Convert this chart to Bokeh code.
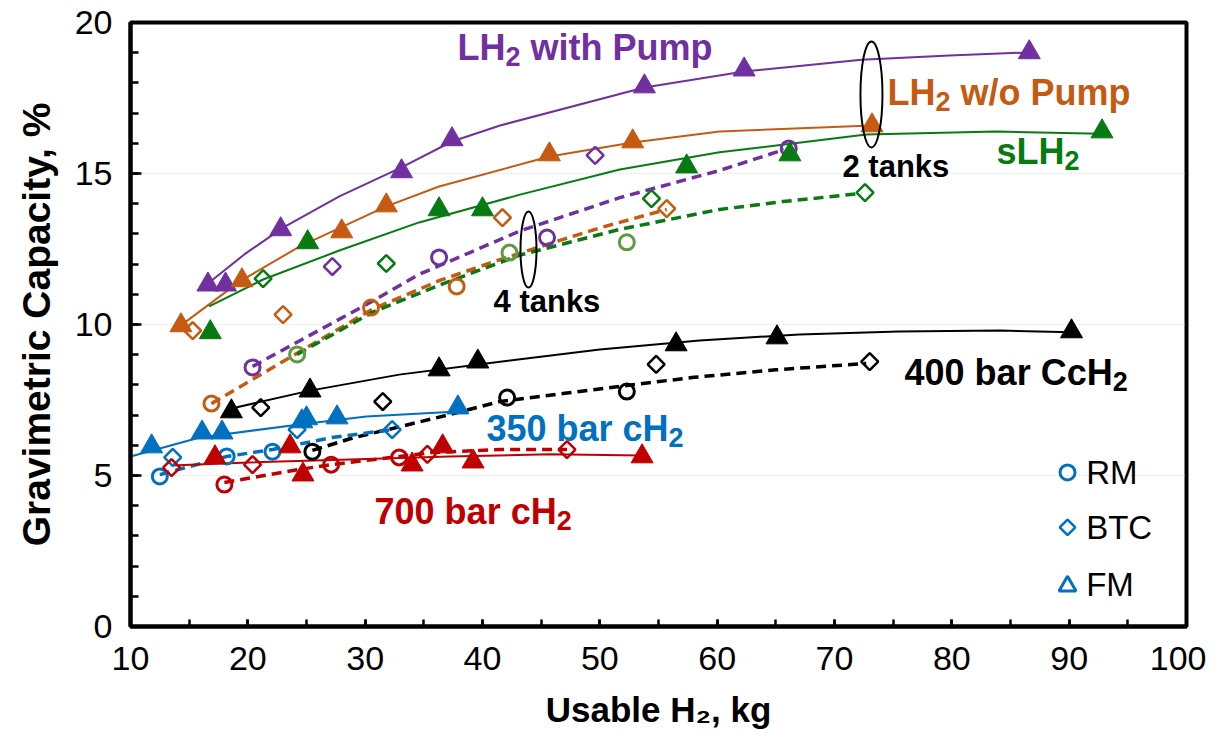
from bokeh.plotting import figure
from bokeh.models import Range1d, SingleIntervalTicker
from bokeh.core.properties import value
from bokeh.embed import file_html
from bokeh.resources import INLINE

# ---------------- data ----------------
# LH2 with Pump
pump_fm_x = [16.6, 18.1, 22.8, 33.1, 37.4, 53.8, 62.3, 86.6]
pump_fm_y = [11.32, 11.32, 13.15, 15.07, 16.13, 17.88, 18.44, 19.01]
pump_rm_x = [20.4, 36.3, 45.5, 66.1]
pump_rm_y = [8.58, 12.22, 12.88, 15.83]
pump_btc_x = [27.2, 49.6]
pump_btc_y = [11.92, 15.60]
pump_2t_x = [16.6, 19.7, 23.0, 27.8, 33.1, 37.4, 41.5, 53.8, 62.3, 72.3, 79.8, 86.6]
pump_2t_y = [11.36, 12.32, 13.21, 14.24, 15.20, 16.06, 16.59, 17.85, 18.38, 18.77, 18.91, 19.01]
pump_4t_x = [20.4, 30.1, 34.6, 43.2, 51.7, 60.2, 65.7]
pump_4t_y = [8.61, 10.66, 11.66, 13.10, 14.20, 15.10, 15.79]

# LH2 w/o Pump
nop_fm_x = [14.3, 19.5, 28.0, 31.8, 45.7, 52.8, 73.2]
nop_fm_y = [9.97, 11.46, 13.08, 13.94, 15.63, 16.06, 16.59]
nop_rm_x = [16.9, 30.5, 37.8]
nop_rm_y = [7.38, 10.56, 11.26]
nop_btc_x = [15.3, 23.0, 41.7, 55.7]
nop_btc_y = [9.80, 10.33, 13.54, 13.84]
nop_2t_x = [14.3, 19.3, 24.4, 31.8, 36.3, 45.7, 52.8, 60.2, 73.2]
nop_2t_y = [9.97, 11.42, 12.58, 13.91, 14.57, 15.56, 16.03, 16.39, 16.59]
nop_4t_x = [16.9, 24.2, 30.6, 36.3, 41.5, 45.5, 50.0, 55.7]
nop_4t_y = [7.38, 9.05, 10.50, 11.45, 12.15, 12.65, 13.20, 13.81]

# sLH2
slh_fm_x = [16.8, 25.1, 36.3, 40.0, 57.4, 66.2, 92.8]
slh_fm_y = [9.74, 12.72, 13.81, 13.81, 15.23, 15.63, 16.39]
slh_rm_x = [24.2, 42.3, 52.3]
slh_rm_y = [9.01, 12.38, 12.72]
slh_btc_x = [21.3, 31.8, 54.4, 72.6]
slh_btc_y = [11.52, 12.02, 14.17, 14.37]
slh_2t_x = [16.7, 21.3, 27.8, 34.6, 43.2, 51.7, 60.2, 72.7, 83.8, 92.6]
slh_2t_y = [10.60, 11.49, 12.45, 13.38, 14.30, 15.13, 15.70, 16.29, 16.39, 16.32]
slh_4t_x = [24.2, 30.6, 36.3, 43.2, 51.7, 60.2, 65.6, 72.3]
slh_4t_y = [9.01, 10.40, 11.30, 12.30, 13.15, 13.81, 14.07, 14.34]

# 400 bar CcH2
cc_fm_x = [18.6, 25.3, 36.3, 39.6, 56.5, 65.1, 90.2]
cc_fm_y = [7.12, 7.81, 8.51, 8.77, 9.34, 9.57, 9.77]
cc_rm_x = [25.5, 42.1, 52.3]
cc_rm_y = [5.79, 7.58, 7.78]
cc_btc_x = [21.1, 31.5, 54.8, 73.0]
cc_btc_y = [7.25, 7.45, 8.68, 8.77]
cc_2t_x = [18.6, 25.3, 32.9, 41.5, 50.0, 58.5, 67.0, 75.5, 84.1, 90.2]
cc_2t_y = [7.22, 7.81, 8.34, 8.77, 9.17, 9.47, 9.67, 9.77, 9.80, 9.74]
cc_4t_x = [25.5, 29.0, 33.0, 37.0, 41.5, 47.0, 52.3, 58.0, 65.0, 72.7]
cc_4t_y = [5.83, 6.25, 6.62, 7.00, 7.45, 7.72, 7.98, 8.25, 8.50, 8.71]

# 350 bar cH2
c35_fm_x = [11.8, 16.1, 17.8, 24.6, 25.0, 27.6, 37.9]
c35_fm_y = [5.96, 6.42, 6.42, 6.79, 6.89, 6.92, 7.25]
c35_rm_x = [12.5, 18.2, 22.1]
c35_rm_y = [4.97, 5.63, 5.79]
c35_btc_x = [13.6, 24.2, 32.3]
c35_btc_y = [5.60, 6.52, 6.52]
c35_2t_x = [10.0, 15.9, 24.4, 30.1, 37.9]
c35_2t_y = [5.63, 6.26, 6.69, 6.95, 7.12]
c35_4t_x = [12.5, 18.2, 22.1, 27.2, 32.3]
c35_4t_y = [5.03, 5.63, 5.86, 6.26, 6.52]

# 700 bar cH2
c70_fm_x = [17.2, 23.6, 24.7, 34.0, 36.6, 39.2, 53.6]
c70_fm_y = [5.60, 5.96, 5.03, 5.36, 5.96, 5.46, 5.63]
c70_rm_x = [18.0, 27.1, 32.9]
c70_rm_y = [4.70, 5.36, 5.60]
c70_btc_x = [13.5, 20.4, 35.3, 47.2]
c70_btc_y = [5.26, 5.36, 5.70, 5.86]
c70_2t_x = [13.5, 20.1, 28.7, 37.2, 45.7, 53.6]
c70_2t_y = [5.33, 5.43, 5.53, 5.63, 5.70, 5.66]
c70_4t_x = [18.0, 24.4, 27.1, 32.9, 35.7, 41.5, 47.2]
c70_4t_y = [4.77, 5.20, 5.36, 5.63, 5.76, 5.86, 5.86]

legend_labels = ["RM", "BTC", "FM"]
x_title = "Usable H\u2082, kg"
y_title = "Gravimetric Capacity, %"

# ---------------- styles ----------------
FONT = "Liberation Sans"
PURPLE = "#7030A0"
ORANGE = "#C55A11"
GREEN = "#077A12"
GREEN_RM = "#5E9A3E"
BLACK = "#000000"
BLUE = "#0070C0"
RED = "#C00000"

p = figure(frame_width=1056, frame_height=604,
           min_border_left=130, min_border_top=22, min_border_right=20, min_border_bottom=100,
           x_range=Range1d(10, 100), y_range=Range1d(0, 20),
           output_backend="svg", toolbar_location=None,
           background_fill_color="white", border_fill_color="white")

p.outline_line_color = "black"
p.outline_line_width = 4
p.outline_line_alpha = 1.0

p.xaxis.ticker = SingleIntervalTicker(interval=10, num_minor_ticks=2)
p.yaxis.ticker = SingleIntervalTicker(interval=5, num_minor_ticks=5)
for ax in (p.xaxis[0], p.yaxis[0]):
    ax.axis_line_width = 4
    ax.axis_line_color = "black"
    ax.major_tick_line_width = 2.5
    ax.minor_tick_line_width = 2.5
    ax.major_tick_line_color = "black"
    ax.minor_tick_line_color = "black"
    ax.major_tick_out = 0
    ax.minor_tick_out = 0
    ax.major_label_text_font = FONT
    ax.major_label_text_font_size = "34px"
    ax.major_label_text_color = "black"
    ax.axis_label_text_font = FONT
    ax.axis_label_text_font_style = "bold"
    ax.axis_label_text_color = "black"
p.xaxis.axis_label_text_font_size = "35px"
p.yaxis.axis_label_text_font_size = "39px"
p.xaxis.major_tick_in = 7
p.xaxis.minor_tick_in = 7
p.yaxis.major_tick_in = 11
p.yaxis.minor_tick_in = 8
p.xaxis.major_label_standoff = 20
p.yaxis.major_label_standoff = 18
p.xaxis.axis_label = x_title
p.yaxis.axis_label = y_title
p.xaxis.axis_label_standoff = 17
p.yaxis.axis_label_standoff = 14

p.xgrid.visible = False
p.ygrid.grid_line_color = "#E2E2E2"
p.ygrid.grid_line_width = 1
p.ygrid.grid_line_dash = "2 2"


def trend(xs, ys, color, dashed):
    if dashed:
        p.line(xs, ys, line_color=color, line_width=3.5, line_dash="10 6")
    else:
        p.line(xs, ys, line_color=color, line_width=2)


def pts(xs, ys, kind, color, filled=True, size=None, lw=None):
    if kind == "tri":
        p.scatter(xs, ys, marker="triangle", size=size or 22,
                  fill_color=color if filled else None, line_color=color, line_width=lw or 1)
    elif kind == "dia":
        p.scatter(xs, ys, marker="square", angle=0.785398, size=size or 12, fill_color=None,
                  line_color=color, line_width=lw or 2.5)
    else:
        p.scatter(xs, ys, marker="circle", size=size or 15, fill_color=None,
                  line_color=color, line_width=lw or 3)


groups = [
    (PURPLE, PURPLE, pump_fm_x, pump_fm_y, pump_rm_x, pump_rm_y, pump_btc_x, pump_btc_y,
     pump_2t_x, pump_2t_y, pump_4t_x, pump_4t_y),
    (ORANGE, ORANGE, nop_fm_x, nop_fm_y, nop_rm_x, nop_rm_y, nop_btc_x, nop_btc_y,
     nop_2t_x, nop_2t_y, nop_4t_x, nop_4t_y),
    (GREEN, GREEN_RM, slh_fm_x, slh_fm_y, slh_rm_x, slh_rm_y, slh_btc_x, slh_btc_y,
     slh_2t_x, slh_2t_y, slh_4t_x, slh_4t_y),
    (BLACK, BLACK, cc_fm_x, cc_fm_y, cc_rm_x, cc_rm_y, cc_btc_x, cc_btc_y,
     cc_2t_x, cc_2t_y, cc_4t_x, cc_4t_y),
    (BLUE, BLUE, c35_fm_x, c35_fm_y, c35_rm_x, c35_rm_y, c35_btc_x, c35_btc_y,
     c35_2t_x, c35_2t_y, c35_4t_x, c35_4t_y),
    (RED, RED, c70_fm_x, c70_fm_y, c70_rm_x, c70_rm_y, c70_btc_x, c70_btc_y,
     c70_2t_x, c70_2t_y, c70_4t_x, c70_4t_y),
]

for g in groups:
    col, rmcol, fx, fy, rx, ry, bx, by, t2x, t2y, t4x, t4y = g
    trend(t2x, t2y, col, False)
    trend(t4x, t4y, col, True)
for g in groups:
    col, rmcol, fx, fy, rx, ry, bx, by, t2x, t2y, t4x, t4y = g
    pts(rx, ry, "circ", rmcol)
    pts(bx, by, "dia", col)
    pts(fx, fy, "tri", col)

# ellipses marking 2 tanks / 4 tanks groups
p.ellipse(x=[73.15], y=[17.62], width=22, height=106, width_units="screen", height_units="screen",
          fill_color=None, line_color="black", line_width=2)
p.ellipse(x=[43.92], y=[12.48], width=16, height=76, width_units="screen", height_units="screen",
          fill_color=None, line_color="black", line_width=2)

# ---------------- annotations ----------------
BW = {" ": 278, "/": 278, "C": 722, "H": 722, "L": 611, "P": 667, "a": 556, "b": 611,
      "c": 556, "h": 611, "i": 278, "k": 556, "m": 889, "n": 611, "o": 611, "p": 611,
      "r": 389, "s": 556, "t": 333, "u": 611, "w": 778}


def tw(s, size):
    return sum(BW.get(ch, 556) for ch in s) * size / 1000.0


def txt(x, y, s, color, size, dx=0.0, dy=0.0, bold=True):
    p.text(x=[x], y=[y], text=[s], x_offset=dx, y_offset=dy,
           text_font=value(FONT), text_font_style="bold" if bold else "normal",
           text_font_size=f"{size}px",
           text_color=color, text_align="left", text_baseline="middle")


def chem(x, y, head, tail, color, size=36, sub=27):
    txt(x, y, head, color, size)
    w = tw(head, size)
    txt(x, y, "2", color, sub, dx=w, dy=9)
    if tail:
        txt(x, y, tail, color, size, dx=w + tw("2", sub) + tw(" ", size))


chem(37.87, 19.16, "LH", "with Pump", PURPLE)
chem(74.52, 17.67, "LH", "w/o Pump", ORANGE)
chem(83.81, 15.74, "sLH", "", GREEN)
chem(75.97, 8.40, "400 bar CcH", "", BLACK)
chem(40.34, 6.54, "350 bar cH", "", BLUE)
chem(30.80, 3.80, "700 bar cH", "", RED)
txt(70.68, 15.22, "2 tanks", BLACK, 31)
txt(40.94, 10.76, "4 tanks", BLACK, 31)

# ---------------- legend (vehicle classes, blue hollow symbols) ----------------
LEG_X = 89.86
LEG_TX = 91.45
leg_y = [5.10, 3.28, 1.39]
pts([LEG_X], [leg_y[0]], "circ", BLUE, size=15, lw=3)
pts([LEG_X], [leg_y[1]], "dia", BLUE, size=11, lw=2.5)
pts([LEG_X], [leg_y[2] - 0.05], "tri", BLUE, filled=False, size=17, lw=3)
for lab, ly in zip(legend_labels, leg_y):
    txt(LEG_TX, ly, lab, "black", 33, bold=False)

open("out.html", "w").write(file_html(p, INLINE))
